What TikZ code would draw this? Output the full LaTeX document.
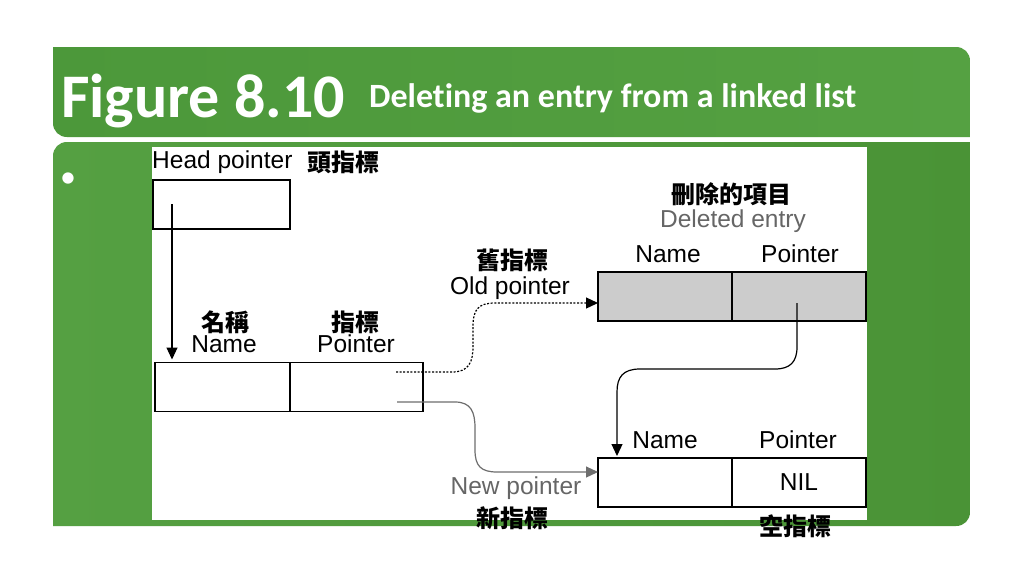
\documentclass[tikz,border=0pt]{standalone}
\usepackage{fontspec}
\setmainfont{Liberation Sans}
\newfontfamily\cjk{Noto Sans CJK TC}
\newfontfamily\titlefont[Ligatures={NoCommon}]{Carlito}
\usetikzlibrary{arrows.meta}
\definecolor{bannerA}{HTML}{4C983A}
\definecolor{bannerM}{HTML}{62AE4E}
\definecolor{bannerB}{HTML}{55A142}
\definecolor{panelA}{HTML}{55A042}
\definecolor{panelB}{HTML}{4A9336}
\definecolor{cellgray}{HTML}{CCCCCC}
\definecolor{txtgray}{HTML}{666666}
\definecolor{arrgray}{HTML}{6E6E6E}
\begin{document}
\begin{tikzpicture}[x=1pt,y=-1pt,
  cell/.style={draw=black, line width=1.3pt, minimum width=134pt, minimum height=49pt, inner sep=0pt, outer sep=0pt},
  lbl/.style={font=\fontsize{24.5}{25}\selectfont, inner sep=0pt},
  cjklbl/.style={font=\cjk\bfseries\fontsize{24}{24}\selectfont, inner sep=0pt},
  graytxt/.style={text=txtgray},
  arr/.style={line width=1.2pt, -{Triangle[length=12pt,width=11pt]}},
  dotarr/.style={line width=1.2pt, dash pattern=on 2pt off 1.6pt, -{Triangle[length=12pt,width=11pt]}},
  grayarr/.style={line width=1.2pt, draw=arrgray, -{Triangle[length=12pt,width=11pt,fill=arrgray]}}
]
\useasboundingbox (0,0) rectangle (1024,576);
\fill[white] (0,0) rectangle (1024,576);
% title banner
\shade[left color=bannerA, middle color=bannerM, right color=bannerB]
  (53,47) -- (956,47) .. controls (964,47) and (970,53) .. (970,61) -- (970,137)
  -- (67,137) .. controls (59,137) and (53,131) .. (53,123) -- cycle;
% content panel
\shade[left color=panelA, right color=panelB]
  (53,156) .. controls (53,148) and (59,142) .. (67,142) -- (970,142) -- (970,512)
  .. controls (970,520) and (964,526) .. (956,526) -- (53,526) -- cycle;
% title text
\node[anchor=base west, inner sep=0pt, text=white, font=\titlefont\bfseries\fontsize{62}{62}\selectfont] (fig) at (61,117) {Figure 8.10};
\node[anchor=base west, inner sep=0pt, text=white, font=\titlefont\bfseries\fontsize{34}{34}\selectfont] (sub) at (369,107) {Deleting an entry from a linked list};
\node[inner sep=0pt, text=white, font=\titlefont\fontsize{32}{32}\selectfont] (bullet) at (68,180) {•};
% white figure area
\fill[white] (152,147) rectangle (867,520);
% boxes
\node[cell, minimum width=137pt] (head) at (221.5,204.5) {};
\node[cell, minimum width=135pt] (n1name) at (222.5,387) {};
\node[cell, minimum width=133pt] (n1ptr) at (356.5,387) {};
\node[cell, fill=cellgray] (dname) at (665,296.5) {};
\node[cell, fill=cellgray] (dptr) at (799,296.5) {};
\node[cell] (tname) at (665,482.5) {};
\node[cell, lbl] (tptr) at (799,482.5) {NIL};
% labels
\node[lbl, anchor=base west] (headlbl) at (152,168) {Head pointer};
\node[cjklbl] (headcjk) at (343,162) {頭指標};
\node[cjklbl] (n1namecjk) at (225,322) {名稱};
\node[lbl, anchor=base] (n1namelbl) at (224,352) {Name};
\node[cjklbl] (n1ptrcjk) at (355,322) {指標};
\node[lbl, anchor=base] (n1ptrlbl) at (356,352) {Pointer};
\node[cjklbl] (delcjk) at (731,194) {刪除的項目};
\node[lbl, graytxt, anchor=base] (dellbl) at (733,227) {Deleted entry};
\node[lbl, anchor=base] (dnamelbl) at (668,262) {Name};
\node[lbl, anchor=base] (dptrlbl) at (800,262) {Pointer};
\node[cjklbl] (oldcjk) at (512,260) {舊指標};
\node[lbl, anchor=base] (oldlbl) at (510,294) {Old pointer};
\node[lbl, anchor=base] (tnamelbl) at (665,448) {Name};
\node[lbl, anchor=base] (tptrlbl) at (798,448) {Pointer};
\node[lbl, graytxt, anchor=base] (newlbl) at (516,494) {New pointer};
\node[cjklbl] (newcjk) at (512,518) {新指標};
\node[cjklbl] (nilcjk) at (795,526) {空指標};
% connectors
\coordinate (hstart) at (172,204);
\draw[arr, shorten >=3pt] (hstart) -- (hstart |- n1name.north);
\coordinate (dstart) at (396,372);
\draw[dotarr] (dstart) -- (452,372) .. controls (469,372) and (473,362) .. (473,346)
  -- (473,326) .. controls (473,310) and (478,303) .. (495,303) -- ([yshift=-6.5pt]dname.west);
\coordinate (nstart) at (397,402);
\draw[grayarr] (nstart) -- (455,402) .. controls (471,402) and (475,412) .. (475,428)
  -- (475,450) .. controls (475,466) and (481,472) .. (497,472) -- ([yshift=10.5pt]tname.west);
\coordinate (pstart) at (797,303);
\coordinate (bend4) at (617,392);
\draw[arr, shorten >=2pt] (pstart) -- (797,347) .. controls (797,362) and (790,369) .. (775,369)
  -- (640,369) .. controls (623,369) and (617,377) .. (617,392) -- (bend4 |- tname.north);
\end{tikzpicture}
\end{document}
